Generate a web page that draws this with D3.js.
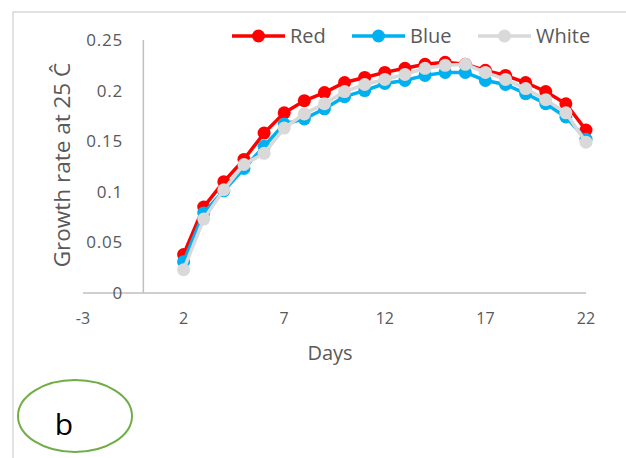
<!DOCTYPE html>
<html>
<head>
<meta charset="utf-8">
<script src="https://cdn.jsdelivr.net/npm/d3@7"></script>
<style>
body { margin: 0; background: #fff; }
svg { display: block; font-family: "Open Sans", sans-serif; }
</style>
</head>
<body>
<svg id="chart" width="626" height="458"></svg>
<script>
var days = [2, 3, 4, 5, 6, 7, 8, 9, 10, 11, 12, 13, 14, 15, 16, 17, 18, 19, 20, 21, 22];
var red = [0.038, 0.085, 0.110, 0.132, 0.158, 0.178, 0.190, 0.198, 0.208, 0.213, 0.218, 0.222, 0.226, 0.228, 0.226, 0.220, 0.215, 0.208, 0.199, 0.187, 0.161];
var blue = [0.031, 0.079, 0.101, 0.123, 0.145, 0.167, 0.172, 0.182, 0.194, 0.200, 0.207, 0.210, 0.215, 0.218, 0.218, 0.210, 0.206, 0.197, 0.187, 0.174, 0.152];
var white = [0.023, 0.073, 0.102, 0.127, 0.138, 0.163, 0.177, 0.187, 0.199, 0.206, 0.211, 0.216, 0.222, 0.225, 0.226, 0.218, 0.211, 0.202, 0.191, 0.178, 0.149];
var seriesNames = ["Red", "Blue", "White"];
var seriesColors = ["#ff0000", "#00b0f0", "#d9d9d9"];
var xTicks = [-3, 2, 7, 12, 17, 22];
var yTicks = [0, 0.05, 0.1, 0.15, 0.2, 0.25];

var svg = d3.select("#chart");

// outer chart frame
svg.append("rect")
	.attr("x", 13).attr("y", 12)
	.attr("width", 700).attr("height", 500)
	.attr("fill", "none")
	.attr("stroke", "#d9d9d9")
	.attr("stroke-width", 1.5);

var x = d3.scaleLinear().domain([-3, 22]).range([83, 586]);
var y = d3.scaleLinear().domain([0, 0.25]).range([293, 40]);

// axes lines
svg.append("line")
	.attr("x1", x(-3)).attr("x2", x(22))
	.attr("y1", y(0)).attr("y2", y(0))
	.attr("stroke", "#bfbfbf").attr("stroke-width", 1.5);
svg.append("line")
	.attr("x1", x(0)).attr("x2", x(0))
	.attr("y1", y(0)).attr("y2", y(0.25))
	.attr("stroke", "#bfbfbf").attr("stroke-width", 1.5);

// tick labels
svg.selectAll(".ylab")
	.data(yTicks)
	.enter()
	.append("text")
	.attr("class", "ylab")
	.attr("x", 123)
	.attr("y", function(d) { return y(d); })
	.attr("dy", "0.35em")
	.attr("text-anchor", "end")
	.attr("font-size", 17)
	.attr("letter-spacing", 0.8)
	.attr("fill", "#595959")
	.text(function(d) { return d3.format("")(d); });

svg.selectAll(".xlab")
	.data(xTicks)
	.enter()
	.append("text")
	.attr("class", "xlab")
	.attr("x", function(d) { return x(d); })
	.attr("y", 318)
	.attr("dy", "0.35em")
	.attr("text-anchor", "middle")
	.attr("font-size", 16)
	.attr("fill", "#595959")
	.text(function(d) { return d; });

// axis titles
svg.append("text")
	.attr("x", 330).attr("y", 353)
	.attr("dy", "0.35em")
	.attr("text-anchor", "middle")
	.attr("font-size", 20)
	.attr("fill", "#595959")
	.text("Days");

svg.append("text")
	.attr("transform", "translate(62,165) rotate(-90)")
	.attr("dy", "0.35em")
	.attr("text-anchor", "middle")
	.attr("font-size", 22.5)
	.attr("fill", "#595959")
	.text("Growth rate at 25 Ĉ");

// series
var allSeries = [red, blue, white];
var line = d3.line()
	.x(function(d, i) { return x(days[i]); })
	.y(function(d) { return y(d); });

for (var s = 0; s < allSeries.length; s++) {
	svg.append("path")
		.datum(allSeries[s])
		.attr("d", line)
		.attr("fill", "none")
		.attr("stroke", seriesColors[s])
		.attr("stroke-width", 3.5);
	svg.selectAll(".pt" + s)
		.data(allSeries[s])
		.enter()
		.append("circle")
		.attr("class", "pt" + s)
		.attr("cx", function(d, i) { return x(days[i]); })
		.attr("cy", function(d) { return y(d); })
		.attr("r", 6.5)
		.attr("fill", seriesColors[s]);
}

// legend
var legendX = [232, 352, 478];
var legend = svg.selectAll(".legend")
	.data(seriesNames)
	.enter()
	.append("g")
	.attr("class", "legend")
	.attr("transform", function(d, i) { return "translate(" + legendX[i] + ",36)"; });
legend.append("line")
	.attr("x1", 0).attr("x2", 53)
	.attr("stroke", function(d, i) { return seriesColors[i]; })
	.attr("stroke-width", 3.5);
legend.append("circle")
	.attr("cx", 26.5).attr("r", 6.5)
	.attr("fill", function(d, i) { return seriesColors[i]; });
legend.append("text")
	.attr("x", 58)
	.attr("dy", "0.35em")
	.attr("font-size", 20)
	.attr("fill", "#595959")
	.text(function(d) { return d; });

// panel label
svg.append("ellipse")
	.attr("cx", 75).attr("cy", 416)
	.attr("rx", 57).attr("ry", 36)
	.attr("fill", "none")
	.attr("stroke", "#70ad47")
	.attr("stroke-width", 2);
svg.append("text")
	.attr("x", 64).attr("y", 424)
	.attr("dy", "0.35em")
	.attr("text-anchor", "middle")
	.attr("font-size", 30)
	.attr("fill", "#000")
	.text("b");
</script>
</body>
</html>
